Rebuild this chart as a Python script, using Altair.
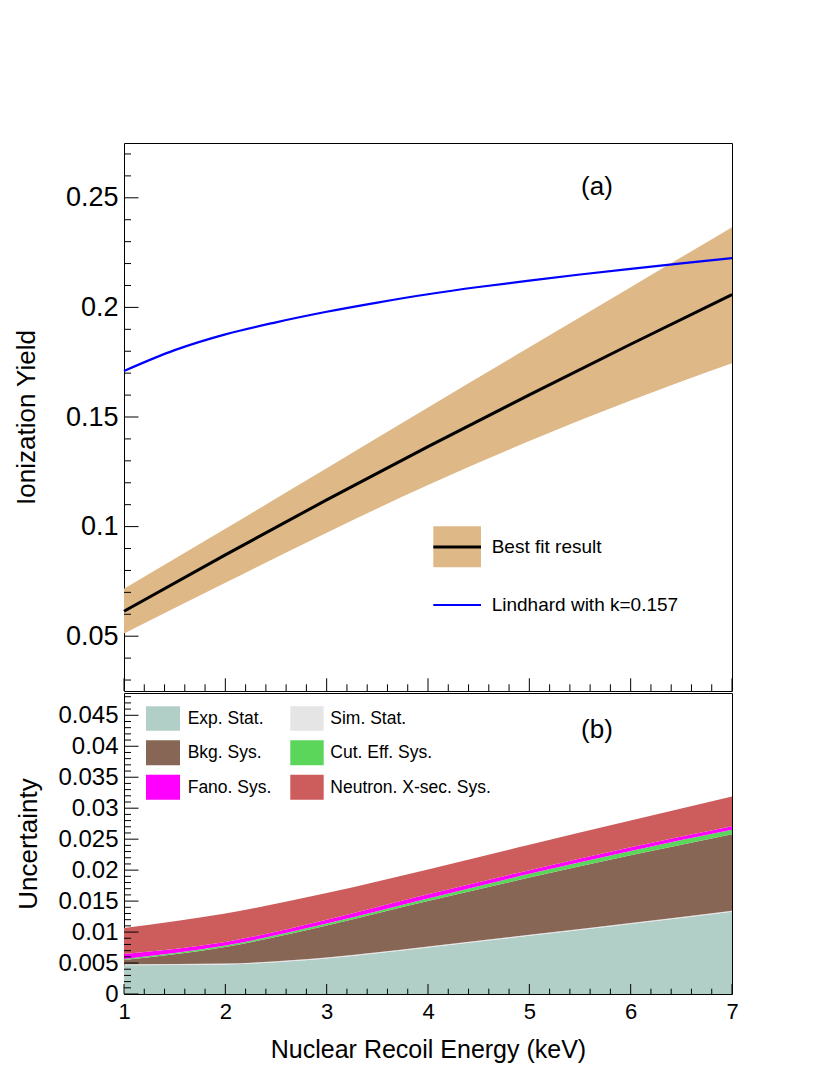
import altair as alt
import pandas as pd

# ---------------- data ----------------
energy = [1, 2, 3, 4, 5, 6, 7]
fit_yield = [0.0614, 0.0871, 0.1122, 0.1365, 0.1601, 0.1832, 0.2058]
fit_upper = [0.0716, 0.0990, 0.1266, 0.1543, 0.1818, 0.2092, 0.2366]
fit_lower = [0.0512, 0.0744, 0.0972, 0.1190, 0.1390, 0.1575, 0.1745]

lind_energy = [1, 1.5, 2, 2.5, 3, 3.5, 4, 4.5, 5, 5.5, 6, 6.5, 7]
lind_yield = [0.1710, 0.1805, 0.1877, 0.1932, 0.1980, 0.2022, 0.2060,
              0.2093, 0.2122, 0.2150, 0.2176, 0.2201, 0.2225]

# cumulative (stacked) upper edges of the uncertainty bands
unc_energy = [1, 2, 3, 4, 5, 6, 7]
exp_stat_top = [0.00464, 0.00478, 0.00575, 0.00752, 0.0094, 0.0113, 0.0133]
sim_stat_top = [0.00479, 0.00493, 0.00590, 0.00767, 0.00955, 0.01145, 0.01345]
bkg_sys_top = [0.0055, 0.0076, 0.01105, 0.0150, 0.0188, 0.0224, 0.0258]
cut_sys_top = [0.00566, 0.00782, 0.01138, 0.01542, 0.0194, 0.0231, 0.0265]
fano_sys_top = [0.00647, 0.0084, 0.0120, 0.0161, 0.0200, 0.0237, 0.0271]
xsec_sys_top = [0.01067, 0.0130, 0.0163, 0.0201, 0.0241, 0.0280, 0.0319]

unc_names = ["Exp. Stat.", "Sim. Stat.", "Bkg. Sys.", "Cut. Eff. Sys.",
             "Fano. Sys.", "Neutron. X-sec. Sys."]
unc_colors = ["#B2CFC7", "#E5E5E5", "#876656", "#5BD65B", "#FF00FF", "#CD5C5C"]

top_y_major = [0.05, 0.1, 0.15, 0.2, 0.25]
top_y_minor = [0.03, 0.04, 0.06, 0.07, 0.08, 0.09, 0.11, 0.12, 0.13, 0.14,
               0.16, 0.17, 0.18, 0.19, 0.21, 0.22, 0.23, 0.24, 0.26, 0.27]
bot_y_major = [0, 0.005, 0.01, 0.015, 0.02, 0.025, 0.03, 0.035, 0.04, 0.045]
bot_y_minor = [0.001, 0.002, 0.003, 0.004, 0.006, 0.007, 0.008, 0.009,
               0.011, 0.012, 0.013, 0.014, 0.016, 0.017, 0.018, 0.019,
               0.021, 0.022, 0.023, 0.024, 0.026, 0.027, 0.028, 0.029,
               0.031, 0.032, 0.033, 0.034, 0.036, 0.037, 0.038, 0.039,
               0.041, 0.042, 0.043, 0.044, 0.046, 0.047, 0.048]
x_major = [1, 2, 3, 4, 5, 6, 7]
x_minor = [1.2, 1.4, 1.6, 1.8, 2.2, 2.4, 2.6, 2.8, 3.2, 3.4, 3.6, 3.8,
           4.2, 4.4, 4.6, 4.8, 5.2, 5.4, 5.6, 5.8, 6.2, 6.4, 6.6, 6.8]

top_legend = ["Best fit result", "Lindhard with k=0.157"]
panel_labels = ["(a)", "(b)"]

# ---------------- layout constants ----------------
W = 608
H1 = 548
H2 = 301
FONT = "Liberation Sans"

xs = alt.Scale(domain=[1, 7], nice=False, zero=False)
ys1 = alt.Scale(domain=[0.025, 0.275], nice=False, zero=False)
ys2 = alt.Scale(domain=[0, 0.0486], nice=False, zero=False)

top_x_axis = alt.Axis(labels=False, ticks=False, domain=False, grid=False,
                      title=None)
top_y_axis = alt.Axis(
    values=top_y_major, format="~g", ticks=False, domain=False,
    grid=False, labelFont=FONT, labelFontSize=27, labelPadding=6,
    labelColor="black", title="Ionization Yield", titleFont=FONT,
    titleFontSize=26, titleFontWeight="normal", titleColor="black",
    titleAngle=270, titleX=-90, titleY=H1 / 2, titleAlign="center",
    titleBaseline="alphabetic")
bot_x_axis = alt.Axis(
    values=x_major, format="d", ticks=False, domain=False, grid=False,
    labelFont=FONT, labelFontSize=22, labelPadding=7, labelFlush=False,
    labelColor="black", title="Nuclear Recoil Energy (keV)",
    titleFont=FONT, titleFontSize=25, titleFontWeight="normal",
    titleColor="black", titleX=W / 2, titleY=63.3, titleAlign="center",
    titleBaseline="alphabetic")
bot_y_axis = alt.Axis(
    values=bot_y_major, format="~g", ticks=False, domain=False,
    grid=False, labelFont=FONT, labelFontSize=24, labelPadding=6,
    labelColor="black", title="Uncertainty", titleFont=FONT,
    titleFontSize=26, titleFontWeight="normal", titleColor="black",
    titleAngle=270, titleX=-88, titleY=H2 / 2, titleAlign="center",
    titleBaseline="alphabetic")


def yticks(values, scale, axis, length):
    return alt.Chart(pd.DataFrame({"v": values})).mark_rule(
        color="black", strokeWidth=1).encode(
        y=alt.Y("v:Q", scale=scale, axis=axis),
        x=alt.value(0), x2=alt.value(length))


def xticks(values, axis, h, length):
    return alt.Chart(pd.DataFrame({"v": values})).mark_rule(
        color="black", strokeWidth=1).encode(
        x=alt.X("v:Q", scale=xs, axis=axis),
        y=alt.value(h), y2=alt.value(h - length))


def label(text, x, y, size, align="left", baseline="middle"):
    return alt.Chart(pd.DataFrame({"t": [text]})).mark_text(
        font=FONT, fontSize=size, align=align, baseline=baseline,
        color="black").encode(text="t:N", x=alt.value(x), y=alt.value(y))


def swatch(color, x1, x2, y1, y2):
    return alt.Chart(pd.DataFrame({"c": [color]})).mark_rect(
        color=color).encode(x=alt.value(x1), x2=alt.value(x2),
                            y=alt.value(y1), y2=alt.value(y2))


# ---------------- top panel ----------------
df_fit = pd.DataFrame({"E": energy, "fit": fit_yield,
                       "hi": fit_upper, "lo": fit_lower})
df_lind = pd.DataFrame({"E": lind_energy, "Y": lind_yield})

band = alt.Chart(df_fit).mark_area(
    color="#DEB887", opacity=1, interpolate="monotone").encode(
    x=alt.X("E:Q", scale=xs, axis=top_x_axis),
    y=alt.Y("hi:Q", scale=ys1, axis=top_y_axis),
    y2="lo:Q")

fit_line = alt.Chart(df_fit).mark_line(
    color="black", strokeWidth=3, interpolate="monotone").encode(
    x=alt.X("E:Q", scale=xs, axis=top_x_axis),
    y=alt.Y("fit:Q", scale=ys1, axis=top_y_axis))

lind_line = alt.Chart(df_lind).mark_line(
    color="#0000FF", strokeWidth=2.2, interpolate="monotone").encode(
    x=alt.X("E:Q", scale=xs, axis=top_x_axis),
    y=alt.Y("Y:Q", scale=ys1, axis=top_y_axis))

top_layers = [
    band, fit_line, lind_line,
    yticks(top_y_major, ys1, top_y_axis, 14.5),
    yticks(top_y_minor, ys1, top_y_axis, 7),
    xticks(x_major, top_x_axis, H1, 12.7),
    xticks(x_minor, top_x_axis, H1, 6.7),
    label(panel_labels[0], 473, 51.8, 26, align="center", baseline="alphabetic"),
    swatch("#DEB887", 309.3, 357, 383.3, 424.3),
    alt.Chart(pd.DataFrame({"c": ["k"]})).mark_rule(
        color="black", strokeWidth=3).encode(
        x=alt.value(309.3), x2=alt.value(357), y=alt.value(404)),
    label(top_legend[0], 367.7, 404.3, 19),
    alt.Chart(pd.DataFrame({"c": ["b"]})).mark_rule(
        color="#0000FF", strokeWidth=2).encode(
        x=alt.value(309.3), x2=alt.value(357), y=alt.value(462)),
    label(top_legend[1], 367.7, 462, 19),
]
top = alt.layer(*top_layers).properties(width=W, height=H1)

# ---------------- bottom panel ----------------
tops = [exp_stat_top, sim_stat_top, bkg_sys_top, cut_sys_top,
        fano_sys_top, xsec_sys_top]
rows = []
prev = [0.0] * len(unc_energy)
for k, (name, t) in enumerate(zip(unc_names, tops)):
    for e, lo, hi in zip(unc_energy, prev, t):
        rows.append({"E": e, "lo": lo, "hi": hi, "src": name, "k": k})
    prev = t
df_unc = pd.DataFrame(rows)

areas = alt.Chart(df_unc).mark_area(opacity=1, interpolate="monotone").encode(
    x=alt.X("E:Q", scale=xs, axis=bot_x_axis),
    y=alt.Y("hi:Q", scale=ys2, axis=bot_y_axis),
    y2="lo:Q",
    color=alt.Color("src:N", scale=alt.Scale(domain=unc_names,
                                             range=unc_colors), legend=None),
    order=alt.Order("k:Q"))

bot_layers = [
    areas,
    yticks(bot_y_major, ys2, bot_y_axis, 14.5),
    yticks(bot_y_minor, ys2, bot_y_axis, 7),
    xticks(x_major, bot_x_axis, H2, 10),
    xticks(x_minor, bot_x_axis, H2, 5.3),
    label(panel_labels[1], 473, 45, 26, align="center", baseline="alphabetic"),
]
col_x = [(22, 56, 63.7), (166.3, 199.7, 206.3)]
row_y = [(13.3, 37.7), (47.3, 72.3), (81.7, 106.7)]
for i, (name, colr) in enumerate(zip(unc_names, unc_colors)):
    r, c = divmod(i, 2)
    x1, x2, tx = col_x[c]
    y1, y2 = row_y[r]
    bot_layers.append(swatch(colr, x1, x2, y1, y2))
    bot_layers.append(label(name, tx, (y1 + y2) / 2 + 0.5, 17.5))

bottom = alt.layer(*bot_layers).properties(width=W, height=H2)

chart = alt.vconcat(top, bottom, spacing=0).properties(
    padding={"left": 4, "top": 134, "right": 10, "bottom": 10}
).configure(background="white").configure_view(stroke="black", strokeWidth=1)

chart.save("out.html", embed_options={"renderer": "svg", "actions": False})
